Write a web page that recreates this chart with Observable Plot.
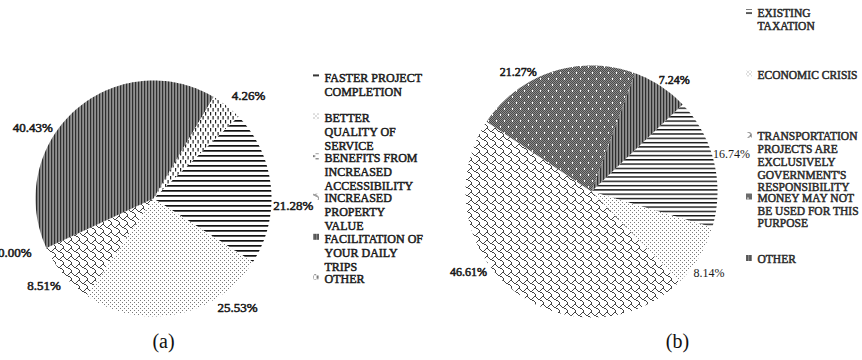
<!DOCTYPE html>
<html><head><meta charset="utf-8">
<script src="https://cdn.jsdelivr.net/npm/d3@7"></script>
<script src="https://cdn.jsdelivr.net/npm/@observablehq/plot@0.6"></script>
<style>html,body{margin:0;padding:0;background:#fff;} #chart svg{display:block;}</style>
</head><body><div id="chart"></div>
<script>
// ---------- DATA ----------
const categoriesA = ["FASTER PROJECT COMPLETION", "BETTER QUALITY OF SERVICE", "BENEFITS FROM INCREASED ACCESSIBILITY", "INCREASED PROPERTY VALUE", "FACILITATION OF YOUR DAILY TRIPS", "OTHER"];
const legendTextA = ["FASTER PROJECT\nCOMPLETION", "BETTER\nQUALITY OF\nSERVICE", "BENEFITS FROM\nINCREASED\nACCESSIBILITY", "INCREASED\nPROPERTY\nVALUE", "FACILITATION OF\nYOUR DAILY\nTRIPS", "OTHER"];
const valuesA = [21.28, 25.53, 0.00, 8.51, 40.43, 4.26];

const categoriesB = ["EXISTING TAXATION", "ECONOMIC CRISIS", "TRANSPORTATION PROJECTS ARE EXCLUSIVELY GOVERNMENT'S RESPONSIBILITY", "MONEY MAY NOT BE USED FOR THIS PURPOSE", "OTHER"];
const legendTextB = ["EXISTING\nTAXATION", "ECONOMIC CRISIS", "TRANSPORTATION\nPROJECTS ARE\nEXCLUSIVELY\nGOVERNMENT'S\nRESPONSIBILITY", "MONEY MAY NOT\nBE USED FOR THIS\nPURPOSE", "OTHER"];
const valuesB = [16.74, 8.14, 46.61, 21.27, 7.24];

const panelLabels = ["(a)", "(b)"];

// ---------- LAYOUT / STYLE ----------
const W = 862, H = 360;
const FONT = "'Liberation Serif', 'Times New Roman', serif";
const panels = [
  {cats: categoriesA, legend: legendTextA, values: valuesA, cx: 153, cy: 198, r: 118, start: 46,
   patterns: ["hA", "dots", "dashH", "shingle", "vert", "dashV"],
   labelNudge: [8.6, -26.1, 34, 1.6, -17.5, 4.4], labelR: [140, 138, 149, 140, 140, 140],
   labelSize: 13, labelBold: [1, 1, 1, 1, 1, 1],
   legendX: 313, legendY: 76, legendStep: 40.2, legendSize: 12, legendLH: 14, legendColor: "#1a1a1a",
   captionX: 163},
  {cats: categoriesB, legend: legendTextB, values: valuesB, cx: 591, cy: 191, r: 126, start: 46.3,
   patterns: ["hB", "dots", "shingle", "money", "vert"],
   labelNudge: [-1.5, 3.5, 17, -13.5, 3.3], labelR: [145, 143, 147, 140, 139],
   labelSize: 12, labelBold: [0, 0, 1, 1, 1],
   legendX: 746, legendY: 12, legendStep: 61.5, legendSize: 11.5, legendLH: 12.8, legendColor: "#2a2a2a",
   captionX: 677}
];
const captionY = 341;

// ---------- BUILD GEOMETRY FROM DATA ----------
const rad = d => d * Math.PI / 180;
const marks = [];
panels.forEach((p, pi) => {
  let acc = 0;
  const total = d3.sum(p.values);
  p.values.forEach((v, i) => {
    const a0 = p.start + acc / total * 360;
    const a1 = a0 + v / total * 360;
    acc += v;
    if (v > 0) {
      const pts = [{x: p.cx, y: p.cy}];
      const n = Math.max(2, Math.ceil(a1 - a0));
      for (let k = 0; k <= n; k++) {
        const a = rad(a0 + (a1 - a0) * k / n);
        pts.push({x: p.cx + p.r * Math.sin(a), y: p.cy - p.r * Math.cos(a)});
      }
      pts.push({x: p.cx, y: p.cy});
      marks.push(Plot.line(pts, {x: "x", y: "y", fill: `url(#${p.patterns[i]})`, stroke: "none", curve: "linear"}));
    }
    const am = rad((a0 + a1) / 2 + p.labelNudge[i]);
    const lr = p.labelR[i];
    const bold = p.labelBold[i];
    marks.push(Plot.text([{x: p.cx + lr * Math.sin(am), y: p.cy - lr * Math.cos(am), t: d3.format(".2f")(v) + "%"}],
      {x: "x", y: "y", text: "t", fontFamily: FONT, fontSize: p.labelSize, fill: "#1a1a1a",
       stroke: bold ? "#1a1a1a" : "none", strokeWidth: bold ? 0.55 : 0, lineAnchor: "middle"}));
  });
  // legend
  const leg = p.legend.map((t, i) => ({x: p.legendX, y: p.legendY + i * p.legendStep, t, pat: p.patterns[i]}));
  marks.push(Plot.rect(leg, {x1: d => d.x, x2: d => d.x + 6, y1: d => d.y - 3, y2: d => d.y + 3, fill: d => `url(#${d.pat})`}));
  marks.push(Plot.text(leg, {x: d => d.x + 11, y: d => d.y - 0.38 * p.legendSize, text: "t", textAnchor: "start", lineAnchor: "top",
    lineHeight: p.legendLH / p.legendSize, fontFamily: FONT, fontSize: p.legendSize, fill: p.legendColor,
    stroke: p.legendColor, strokeWidth: 0.5}));
  marks.push(Plot.text([panelLabels[pi]], {x: () => p.captionX, y: () => captionY, text: d => d, fontFamily: FONT, fontSize: 20, fill: "#111", lineAnchor: "middle"}));
});

const svg = Plot.plot({
  width: W, height: H, margin: 0,
  x: {domain: [0, W], range: [0, W], axis: null},
  y: {domain: [0, H], range: [0, H], axis: null},
  color: {type: "identity"},
  style: {background: "#fff", overflow: "visible"},
  marks
});

// ---------- PATTERNS ----------
const ns = "http://www.w3.org/2000/svg";
const defs = document.createElementNS(ns, "defs");
svg.insertBefore(defs, svg.firstChild);
function pattern(id, w, h, bg, rects) {
  const p = document.createElementNS(ns, "pattern");
  p.setAttribute("id", id); p.setAttribute("patternUnits", "userSpaceOnUse");
  p.setAttribute("width", w); p.setAttribute("height", h);
  p.setAttribute("patternTransform", "translate(-0.5,-0.5)");
  const all = [[0, 0, w, h, bg], ...rects];
  all.forEach(([x, y, rw, rh, f]) => {
    const r = document.createElementNS(ns, "rect");
    r.setAttribute("x", x); r.setAttribute("y", y); r.setAttribute("width", rw); r.setAttribute("height", rh); r.setAttribute("fill", f);
    p.appendChild(r);
  });
  defs.appendChild(p);
}
pattern("hA", 4, 5, "#fff", [[0, 0, 4, 1.7, "#111"]]);
pattern("hB", 4, 4.3, "#fff", [[0, 0, 4, 1.4, "#111"]]);
pattern("dots", 4, 4, "#fff", [[0, 0, 1, 1, "#7a7a7a"], [2, 2, 1, 1, "#7a7a7a"]]);
pattern("dashV", 5, 8, "#fff", [[0, 0, 1.2, 3.5, "#222"], [2.5, 4, 1.2, 3.5, "#222"]]);
pattern("dashH", 8, 6, "#fff", [[0, 0, 3.5, 1.2, "#222"], [4, 3, 3.5, 1.2, "#222"]]);
pattern("vert", 3, 4, "#909090", [[0, 0, 1.2, 4, "#2e2e2e"]]);
{
  const bits = [0x03, 0x84, 0x48, 0x30, 0x0c, 0x02, 0x01, 0x01];
  const rs = [];
  bits.forEach((b, y) => { for (let x = 0; x < 8; x++) if (b & (0x80 >> x)) rs.push([x, y, 1, 1, "#444"]); });
  pattern("shingle", 8, 8, "#fff", rs);
}
{
  const rs = [];
  for (let y = 0; y < 12; y++) for (let x = 0; x < 8; x++) if ((x + y) % 2 === 0) rs.push([x, y, 1, 1, "#4a4a4a"]);
  rs.push([0, 0, 1, 2, "#fff"], [4, 6, 1, 2, "#fff"]);
  pattern("money", 8, 12, "#8c8c8c", rs);
}
document.getElementById("chart").appendChild(svg);
</script>
</body></html>
